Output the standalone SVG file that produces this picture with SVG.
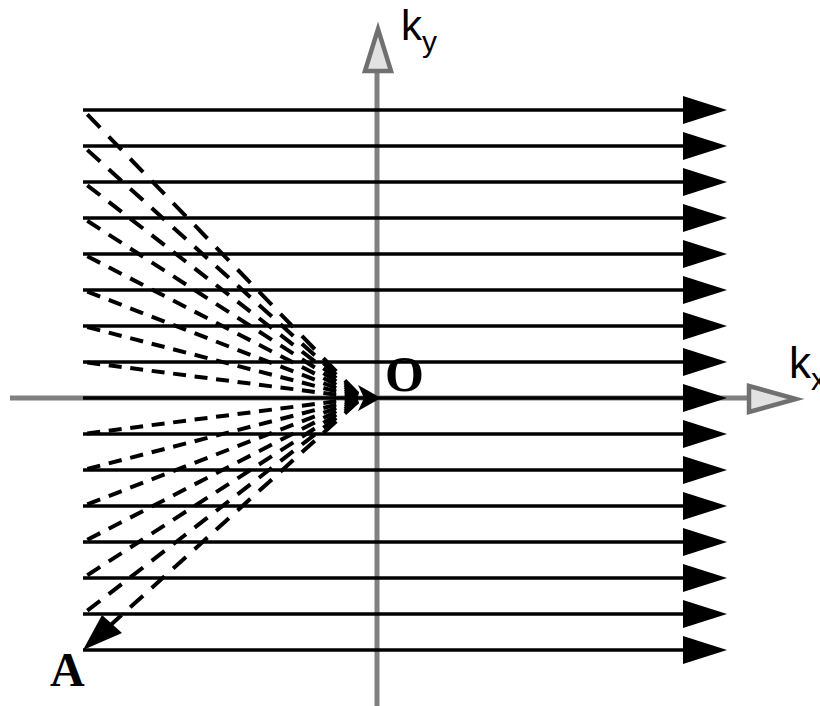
<svg xmlns="http://www.w3.org/2000/svg" width="820" height="706" viewBox="0 0 820 706">
<defs>
<style>
.ln{stroke:#000;stroke-width:3.4;fill:none}
.ah{fill:#000;stroke:none}
.ax{stroke:#808080;stroke-width:5;fill:none}
.axh{fill:#e2e2e2;stroke:#707070;stroke-width:4.5;stroke-linejoin:miter}
.ds{stroke:#000;stroke-width:4;fill:none;stroke-dasharray:0.6 0.4;stroke-dashoffset:0.8}
.sans{font-family:"Liberation Sans",Arial,sans-serif;fill:#000}
.ser{font-family:"Liberation Serif","Times New Roman",serif;font-weight:bold;fill:#000}
</style>
<marker id="tri" viewBox="0 0 44 28" refX="0" refY="14" markerWidth="44" markerHeight="28" markerUnits="userSpaceOnUse" orient="auto">
<path d="M0,0 L44,14 L0,28 Z" class="ah"/>
</marker>
</defs>
<rect width="820" height="706" fill="#fff"/>
<g id="axes">
<line class="ax" x1="10" y1="398" x2="750" y2="398"/>
<line class="ax" x1="377" y1="706" x2="377" y2="70"/>
<polygon id="x-axis-head" class="axh" points="749,386 796,399 749,412"/>
<polygon id="y-axis-head" class="axh" points="365,71 378,29 391,71"/>
</g>
<g id="readout-lines">
<line class="ln" x1="83" y1="110" x2="683" y2="110" marker-end="url(#tri)"/>
<line class="ln" x1="83" y1="146" x2="683" y2="146" marker-end="url(#tri)"/>
<line class="ln" x1="83" y1="182" x2="683" y2="182" marker-end="url(#tri)"/>
<line class="ln" x1="83" y1="218" x2="683" y2="218" marker-end="url(#tri)"/>
<line class="ln" x1="83" y1="254" x2="683" y2="254" marker-end="url(#tri)"/>
<line class="ln" x1="83" y1="290" x2="683" y2="290" marker-end="url(#tri)"/>
<line class="ln" x1="83" y1="326" x2="683" y2="326" marker-end="url(#tri)"/>
<line class="ln" x1="83" y1="362" x2="683" y2="362" marker-end="url(#tri)"/>
<line class="ln" x1="83" y1="398" x2="683" y2="398" marker-end="url(#tri)"/>
<line class="ln" x1="83" y1="434" x2="683" y2="434" marker-end="url(#tri)"/>
<line class="ln" x1="83" y1="470" x2="683" y2="470" marker-end="url(#tri)"/>
<line class="ln" x1="83" y1="506" x2="683" y2="506" marker-end="url(#tri)"/>
<line class="ln" x1="83" y1="542" x2="683" y2="542" marker-end="url(#tri)"/>
<line class="ln" x1="83" y1="578" x2="683" y2="578" marker-end="url(#tri)"/>
<line class="ln" x1="83" y1="614" x2="683" y2="614" marker-end="url(#tri)"/>
<line class="ln" x1="83" y1="650" x2="683" y2="650" marker-end="url(#tri)"/>
</g>
<g id="fan-connectors">
<path class="ds" pathLength="13" d="M83,110 L362,398"/>
<path class="ds" pathLength="13" d="M83,146 L362,398"/>
<path class="ds" pathLength="13" d="M83,182 L362,398"/>
<path class="ds" pathLength="13" d="M83,218 L362,398"/>
<path class="ds" pathLength="13" d="M83,254 L362,398"/>
<path class="ds" pathLength="13" d="M83,290 L362,398"/>
<path class="ds" pathLength="13" d="M83,326 L362,398"/>
<path class="ds" pathLength="13" d="M83,362 L362,398"/>
<path class="ds" pathLength="13" d="M83,434 L362,398"/>
<path class="ds" pathLength="13" d="M83,470 L362,398"/>
<path class="ds" pathLength="13" d="M83,506 L362,398"/>
<path class="ds" pathLength="13" d="M83,542 L362,398"/>
<path class="ds" pathLength="13" d="M83,578 L362,398"/>
<path class="ds" pathLength="13" d="M83,614 L362,398"/>
<path class="ds" pathLength="13" d="M83,650 L362,398"/>
<polygon class="ah" points="381,398 358,385 364,398 358,411"/>
<polygon class="ah" points="83,650 102,615 122,633"/>
</g>
<g id="node-O"><text class="ser" x="385" y="391" font-size="50">O</text></g>
<g id="node-A"><text class="ser" x="50" y="686" font-size="48">A</text></g>
<g id="label-ky"><text class="sans" x="401" y="40" font-size="42">k<tspan font-size="30" dy="12">y</tspan></text></g>
<g id="label-kx"><text class="sans" x="789" y="378" font-size="44">k<tspan font-size="31" dy="12">x</tspan></text></g>
</svg>
